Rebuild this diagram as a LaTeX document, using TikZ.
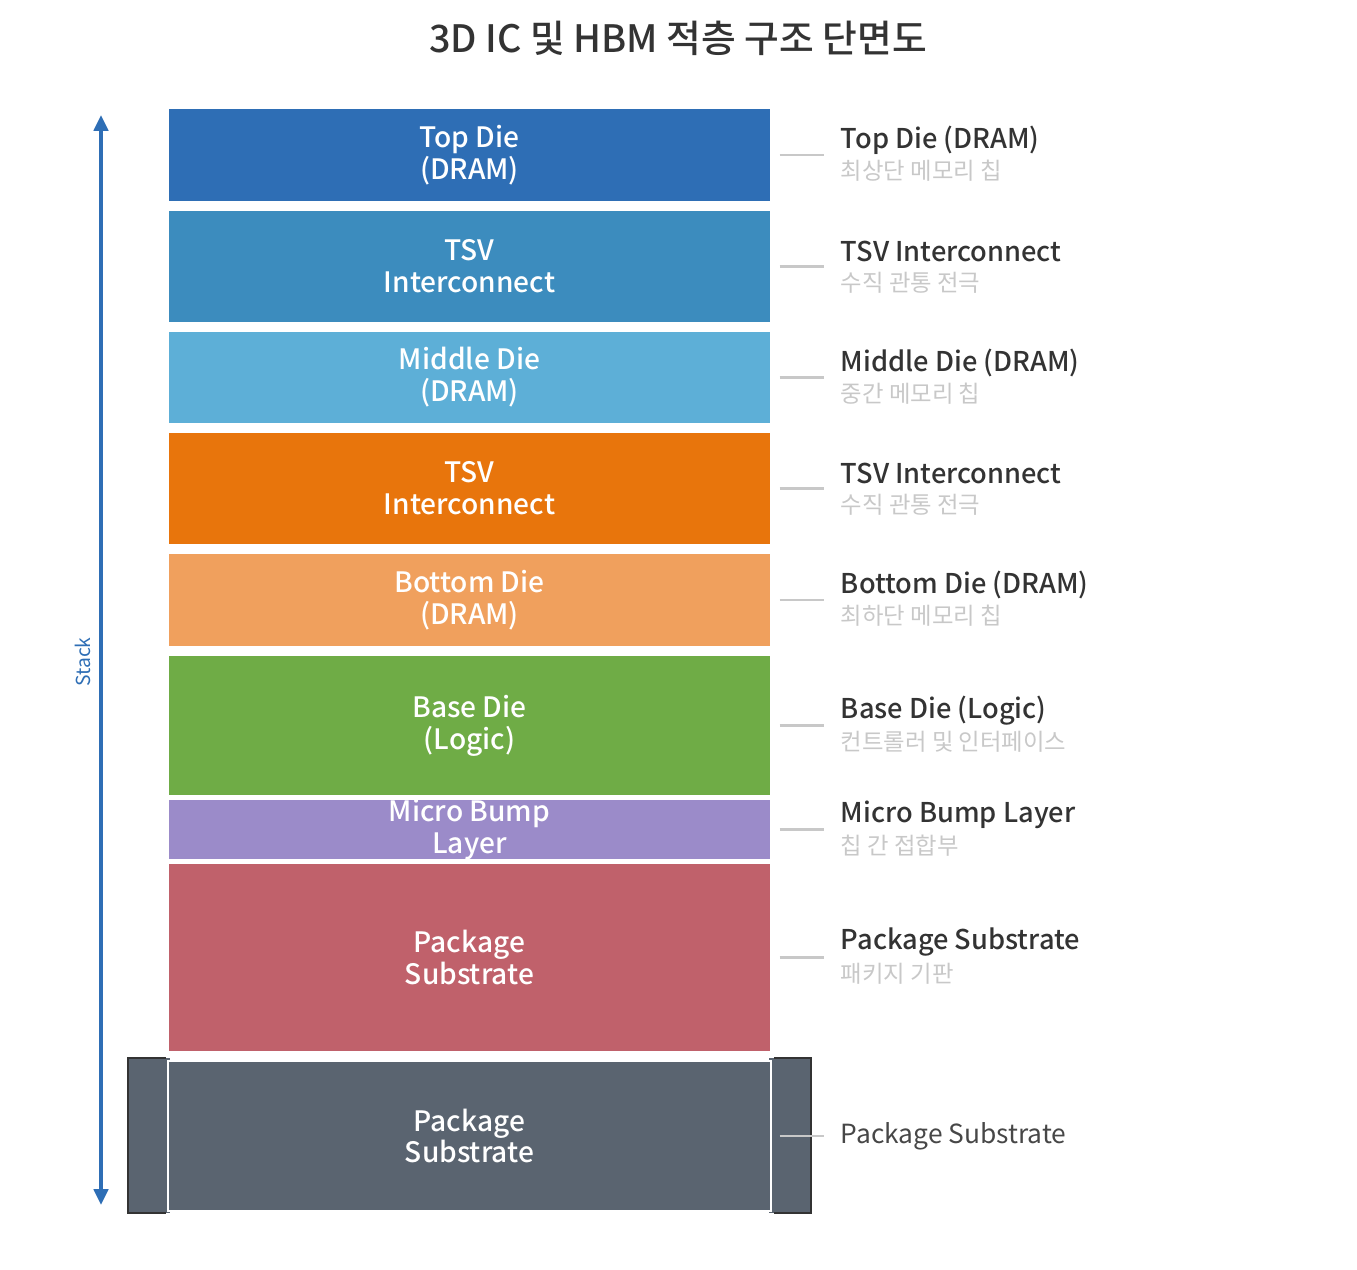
\documentclass[tikz,border=0pt]{standalone}
\usepackage{fontspec}
\setmainfont{Noto Sans CJK KR}
\newfontfamily\medfont{Noto Sans CJK KR Medium}
\usetikzlibrary{arrows.meta}

\definecolor{topc}{HTML}{2E6EB5}
\definecolor{tsva}{HTML}{3C8CBE}
\definecolor{midc}{HTML}{5DAFD7}
\definecolor{tsvb}{HTML}{E8750C}
\definecolor{botc}{HTML}{F0A05D}
\definecolor{basec}{HTML}{6FAC46}
\definecolor{bumpc}{HTML}{9B8BC9}
\definecolor{suba}{HTML}{C0616B}
\definecolor{subb}{HTML}{5A6470}
\definecolor{inkc}{HTML}{333333}
\definecolor{greyc}{HTML}{C8C8C8}
\definecolor{stackc}{HTML}{2E6EB5}

\tikzset{
  layer/.style={draw=white, line width=0.8pt, minimum width=12.06cm, inner sep=0pt,
    text=white, align=center, font=\fontsize{16}{18.2}\selectfont\medfont},
  leader/.style={draw=greyc, line width=1.2pt},
  namelbl/.style={anchor=west, inner sep=0pt, text=inkc, font=\fontsize{15.5}{18}\selectfont\medfont},
  desclbl/.style={anchor=west, inner sep=0pt, text=greyc, font=\fontsize{13.3}{16}\selectfont},
  sidebar/.style={draw=inkc, line width=1.2pt},
}

\begin{document}
\begin{tikzpicture}[x=0.02cm,y=-0.02cm]
  \useasboundingbox (0,0) rectangle (1357,1270);

  \node (title) at (678,38) {\fontsize{21.5}{26}\selectfont\medfont\color{inkc}3D IC 및 HBM 적층 구조 단면도};

  % side bars of the package
  \fill[subb] (128,1058) rectangle (170,1213);
  \fill[subb] (769,1058) rectangle (811,1213);
  \draw[sidebar] (166,1058) -- (128,1058) -- (128,1213) -- (166,1213);
  \draw[sidebar] (774,1058) -- (811,1058) -- (811,1213) -- (774,1213);

  % layers
  \node[layer, fill=topc,  minimum height=1.88cm] (top)  at (469.5,155)    {Top Die\\(DRAM)};
  \node[layer, fill=tsva,  minimum height=2.26cm] (tsv1) at (469.5,266.5)  {TSV\\Interconnect};
  \node[layer, fill=midc,  minimum height=1.86cm] (mid)  at (469.5,377.5)  {Middle Die\\(DRAM)};
  \node[layer, fill=tsvb,  minimum height=2.26cm] (tsv2) at (469.5,488.5)  {TSV\\Interconnect};
  \node[layer, fill=botc,  minimum height=1.88cm] (bot)  at (469.5,600)    {Bottom Die\\(DRAM)};
  \node[layer, fill=basec, minimum height=2.82cm] (base) at (469.5,725.5)  {Base Die\\(Logic)};
  \node[layer, fill=bumpc, minimum height=1.02cm] (bump) at (469.5,829.5)  {Micro Bump\\Layer};
  \node[layer, fill=suba,  minimum height=3.78cm] (pkg1) at (469.5,957.5)  {Package\\Substrate};
  \node[layer, fill=subb,  minimum height=3.00cm] (pkg2) at (469.5,1136)   {Package\\Substrate};

  % leaders and labels
  \foreach \b/\nm/\ds in {top/Top Die (DRAM)/최상단 메모리 칩,
                          tsv1/TSV Interconnect/수직 관통 전극,
                          mid/Middle Die (DRAM)/중간 메모리 칩,
                          tsv2/TSV Interconnect/수직 관통 전극,
                          bot/Bottom Die (DRAM)/최하단 메모리 칩,
                          base/Base Die (Logic)/컨트롤러 및 인터페이스,
                          bump/Micro Bump Layer/칩 간 접합부,
                          pkg1/Package Substrate/패키지 기판}{
    \draw[leader] ([xshift=0.16cm]\b.east) -- ([xshift=1.04cm]\b.east);
    \node[namelbl] (\b-name) at ([xshift=1.38cm,yshift=0.3cm]\b.east) {\nm};
    \node[desclbl] (\b-desc) at ([xshift=1.38cm,yshift=-0.32cm]\b.east) {\ds};
  }
  \draw[leader] ([xshift=0.16cm]pkg2.east) -- ([xshift=1.04cm]pkg2.east);
  \node[namelbl, font=\fontsize{15}{18}\selectfont, text=inkc!90] (pkg2-name) at ([xshift=1.38cm]pkg2.east) {Package Substrate};

  % stack arrow
  \coordinate (stk-top) at (101,115);
  \coordinate (stk-bot) at (101,1205);
  \draw[stackc, line width=2.2pt, {Triangle[length=9pt,width=8pt]}-{Triangle[length=9pt,width=8pt]}] (stk-bot) -- (stk-top);
  \node[rotate=90, text=stackc, font=\fontsize{11}{13}\selectfont] (stk-lbl) at (83,662) {Stack};
\end{tikzpicture}
\end{document}
